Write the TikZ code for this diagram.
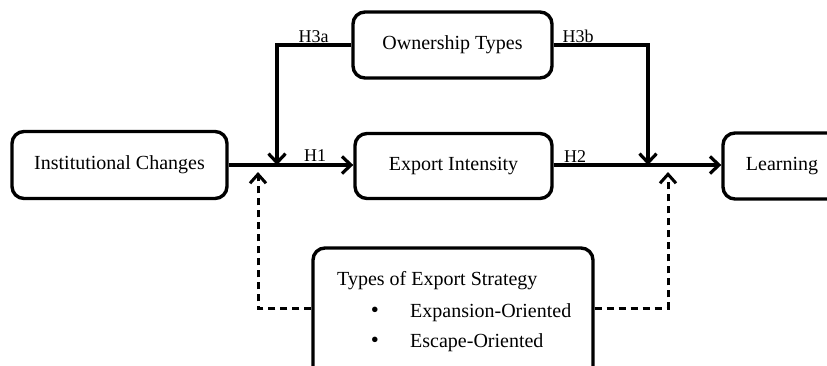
\documentclass[tikz,border=0pt]{standalone}
\usepackage{fontspec}
\setmainfont{Liberation Serif}
\usetikzlibrary{arrows.meta}
\begin{document}
\begin{tikzpicture}[x=1pt,y=-1pt,
  box/.style={draw, line width=3.4pt, rounded corners=12pt, inner sep=0pt, font=\fontsize{20pt}{24pt}\selectfont},
  conn/.style={line width=3.2pt, -{Straight Barb[length=9pt,width=17pt]}},
  dconn/.style={line width=3pt, dash pattern=on 7pt off 5pt, -{Straight Barb[length=9pt,width=16pt]}},
  lab/.style={font=\fontsize{18pt}{20pt}\selectfont, inner sep=0pt, anchor=base},
  txt/.style={font=\fontsize{20pt}{24pt}\selectfont, inner sep=0pt, anchor=base west},
  bul/.style={font=\fontsize{23pt}{24pt}\selectfont, inner sep=0pt, anchor=base}]
\useasboundingbox (0,0) rectangle (827,365);
% boxes
\node[box, minimum width=215pt, minimum height=67pt] (ic) at (119.5,165) {Institutional Changes};
\node[box, minimum width=199pt, minimum height=66pt] (own) at (452.5,45) {Ownership Types};
\node[box, minimum width=197pt, minimum height=65pt] (ei) at (453.5,166) {Export Intensity};
\node[box, minimum width=118pt, minimum height=66pt] (learn) at (782,166) {Learning};
\node[box, minimum width=280pt, minimum height=142pt] (strat) at (453,319) {};
% strategy texts
\node[txt] (stitle) at (337,285) {Types of Export Strategy};
\node[bul] (b1) at (375,317) {•};
\node[txt] (s1) at (410,317) {Expansion-Oriented};
\node[bul] (b2) at (375,347) {•};
\node[txt] (s2) at (410,347) {Escape-Oriented};
% coordinates
\coordinate (j1) at (277,165);
\coordinate (j2) at (648,165);
\coordinate (c1) at (277,45);
\coordinate (c2) at (648,45);
\coordinate (dl) at (258,308);
\coordinate (dr) at (668,308);
\coordinate (tl) at (258,172);
\coordinate (tr) at (668,172);
% main connectors
\draw[conn] (ic.east |- j1) -- (ei.west |- j1);
\draw[conn] (ei.east |- j2) -- (learn.west |- j2);
\draw[conn] (own.west) -- (c1) -- (j1);
\draw[conn] (own.east) -- (c2) -- (j2);
% dashed connectors
\draw[dconn] (strat.west |- dl) -- (dl) -- (tl);
\draw[dconn] (strat.east |- dr) -- (dr) -- (tr);
% labels
\node[lab] (h1) at (315,161) {H1};
\node[lab] (h2) at (575,162) {H2};
\node[lab] (h3a) at (313.5,42) {H3a};
\node[lab] (h3b) at (578,42) {H3b};
\end{tikzpicture}
\end{document}
